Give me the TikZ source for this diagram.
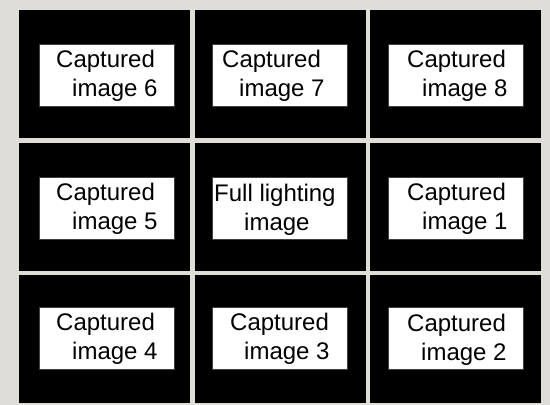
\documentclass[tikz,border=0pt]{standalone}
\usepackage{fontspec}
\setmainfont{Liberation Sans}
\definecolor{bggray}{RGB}{222,221,216}
\definecolor{boxline}{RGB}{70,62,62}
\begin{document}
\begin{tikzpicture}[x=1pt,y=-1pt,
  cell/.style={fill=black,draw=none,inner sep=0pt,minimum width=171pt,minimum height=128pt},
  imgbox/.style={fill=white,draw=boxline,line width=0.9pt,inner sep=0pt,minimum width=135pt,minimum height=62pt},
  lbl/.style={inner sep=0pt,anchor=base west,font=\fontsize{24}{29}\selectfont}]
\fill[bggray] (0,0) rectangle (550,405);
\useasboundingbox (0,0) rectangle (550,405);
% cells
\node[cell] (c6) at (104.5,74) {};
\node[cell] (c7) at (280,74) {};
\node[cell] (c8) at (455,74) {};
\node[cell] (c5) at (104.5,206.5) {};
\node[cell] (c0) at (280,206.5) {};
\node[cell] (c1) at (455,206.5) {};
\node[cell] (c4) at (104.5,338.5) {};
\node[cell] (c3) at (280,338.5) {};
\node[cell] (c2) at (455,338.5) {};
% boxes
\node[imgbox] (b6) at (106.5,75) {};
\node[imgbox] (b7) at (279.5,75) {};
\node[imgbox] (b8) at (456,75) {};
\node[imgbox] (b5) at (106.5,208) {};
\node[imgbox] (b0) at (279.5,208) {};
\node[imgbox] (b1) at (456,208) {};
\node[imgbox] (b4) at (106.5,338) {};
\node[imgbox] (b3) at (279.5,338) {};
\node[imgbox] (b2) at (456,338) {};
% labels
\node[lbl] (t6a) at (56,67.5) {Captured};
\node[lbl] (t6b) at (72,96.5) {image 6};
\node[lbl] (t7a) at (222,67) {Captured};
\node[lbl] (t7b) at (239,96) {image 7};
\node[lbl] (t8a) at (407,67.5) {Captured};
\node[lbl] (t8b) at (422,96.5) {image 8};
\node[lbl] (t5a) at (56,200.5) {Captured};
\node[lbl] (t5b) at (72,229.5) {image 5};
\node[lbl] (t0a) at (214,201) {Full lighting};
\node[lbl] (t0b) at (244,230) {image};
\node[lbl] (t1a) at (407,200.5) {Captured};
\node[lbl] (t1b) at (422,229.5) {image 1};
\node[lbl] (t4a) at (56,330.5) {Captured};
\node[lbl] (t4b) at (72,359.5) {image 4};
\node[lbl] (t3a) at (230,330.5) {Captured};
\node[lbl] (t3b) at (244,359.5) {image 3};
\node[lbl] (t2a) at (407,331) {Captured};
\node[lbl] (t2b) at (421,360) {image 2};
\end{tikzpicture}
\end{document}
